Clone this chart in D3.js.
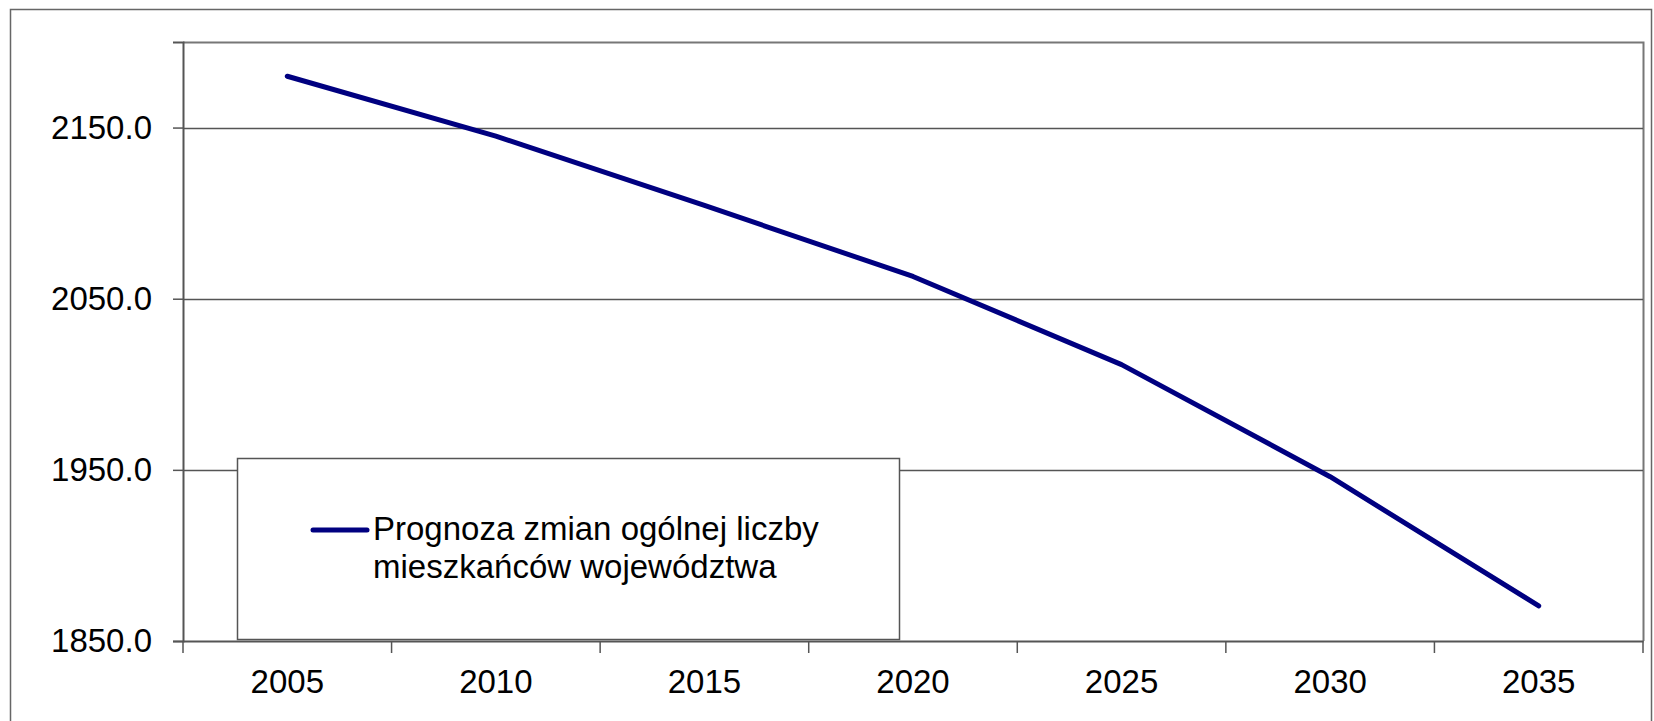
<!DOCTYPE html>
<html lang="pl">
<head>
<meta charset="utf-8">
<title>Prognoza</title>
<script src="https://d3js.org/d3.v7.min.js"></script>
<style>
  body { margin: 0; background: white; }
  text { font-family: "Liberation Sans", Arial, sans-serif; font-size: 33px; fill: #000; }
  .axis path, .axis line { stroke: #555; }
</style>
</head>
<body>
<div id="main"></div>
<script>
var years = ["2005", "2010", "2015", "2020", "2025", "2030", "2035"];
var population = [2180, 2145, 2104.5, 2063, 2011.5, 1946, 1870.5];
var yTicks = [1850, 1950, 2050, 2150];
var seriesName = ["Prognoza zmian ogólnej liczby", "mieszkańców województwa"];

var width = 1654, height = 721;
var plotLeft = 183, plotRight = 1643, plotTop = 42, plotBottom = 641;

var svg = d3.select("#main").append("svg")
  .attr("width", width)
  .attr("height", height);

// outer chart border
svg.append("rect")
  .attr("x", 10.5).attr("y", 9.5)
  .attr("width", 1641).attr("height", 730)
  .attr("fill", "white")
  .attr("stroke", "#666").attr("stroke-width", 1.5);

var x = d3.scaleBand().domain(years).range([plotLeft, plotRight]).padding(0);
var y = d3.scaleLinear().domain([1850, 2200]).range([plotBottom, plotTop]);

// plot frame (top + right)
svg.append("path")
  .attr("d", "M" + plotLeft + "," + (plotTop + 0.5) + "H" + (plotRight + 0.5) + "V" + plotBottom)
  .attr("fill", "none")
  .attr("stroke", "#777").attr("stroke-width", 2);

// gridlines
svg.append("g").selectAll("line")
  .data(yTicks.filter(function(d){ return d > 1850; }))
  .enter().append("line")
  .attr("x1", plotLeft).attr("x2", plotRight)
  .attr("y1", function(d){ return Math.round(y(d)) + 0.5; })
  .attr("y2", function(d){ return Math.round(y(d)) + 0.5; })
  .attr("stroke", "#555").attr("stroke-width", 1.5);

// y axis
var gy = svg.append("g").attr("class", "axis")
  .attr("transform", "translate(" + plotLeft + ",0)")
  .call(d3.axisLeft(y).tickValues(yTicks).tickSize(10).tickPadding(21)
    .tickFormat(d3.format(".1f")));
gy.select(".domain").attr("stroke-width", 2);
gy.selectAll(".tick line").attr("stroke-width", 1.5);
gy.selectAll("text").style("font-size", "33px").attr("fill", "#000");

// x axis (labels at category centres)
var gx = svg.append("g").attr("class", "axis")
  .attr("transform", "translate(0," + plotBottom + ")")
  .call(d3.axisBottom(x).tickSize(0).tickPadding(29));
gx.select(".domain").attr("stroke-width", 2);
gx.selectAll("text").style("font-size", "33px").attr("fill", "#000");

// tick marks between categories
var edges = years.map(function(d){ return x(d); }).concat([plotRight]);
svg.append("g").selectAll("line")
  .data(edges).enter().append("line")
  .attr("x1", function(d){ return d; }).attr("x2", function(d){ return d; })
  .attr("y1", plotBottom).attr("y2", plotBottom + 12)
  .attr("stroke", "#555").attr("stroke-width", 1.5);

// legend box
var lg = svg.append("g");
lg.append("rect")
  .attr("x", 237.5).attr("y", 458.5)
  .attr("width", 662).attr("height", 181)
  .attr("fill", "white")
  .attr("stroke", "#555").attr("stroke-width", 1.5);

// series line
var line = d3.line()
  .x(function(d, i){ return x(years[i]) + x.bandwidth() / 2; })
  .y(function(d){ return y(d); });

svg.append("path")
  .datum(population)
  .attr("d", line)
  .attr("fill", "none")
  .attr("stroke", "#000080")
  .attr("stroke-width", 5)
  .attr("stroke-linejoin", "round")
  .attr("stroke-linecap", "round");

lg.append("line")
  .attr("x1", 313).attr("x2", 367)
  .attr("y1", 530).attr("y2", 530)
  .attr("stroke", "#000080").attr("stroke-width", 5)
  .attr("stroke-linecap", "round");

lg.selectAll("text.leg")
  .data(seriesName).enter().append("text")
  .attr("class", "leg")
  .attr("x", 373)
  .attr("y", function(d, i){ return 540 + i * 38; })
  .text(function(d){ return d; });
</script>
</body>
</html>
